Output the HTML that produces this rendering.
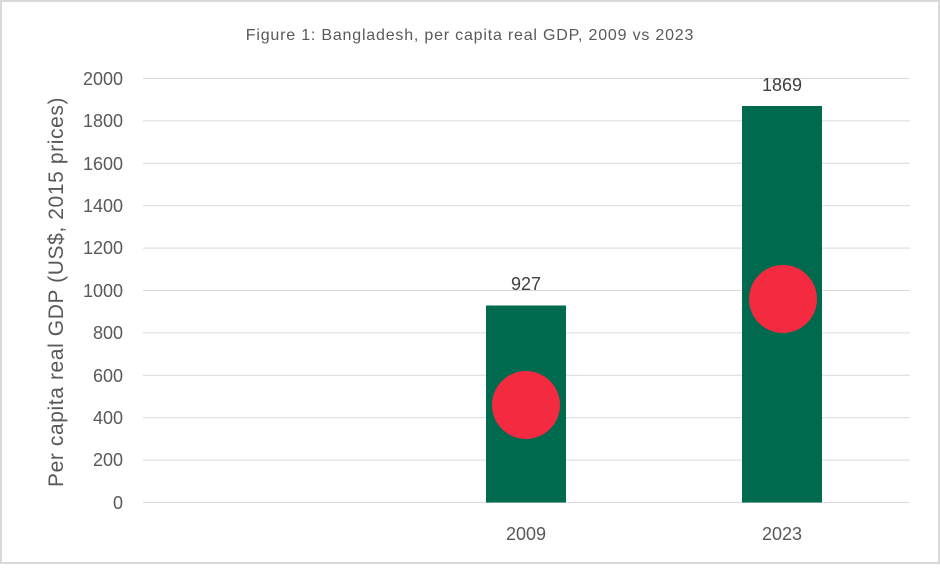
<!DOCTYPE html>
<html><head><style>body{margin:0;background:#fff}</style></head><body>
<svg width="940" height="564" xmlns="http://www.w3.org/2000/svg" font-family="Liberation Sans, sans-serif">
<rect x="1" y="1" width="938" height="562" fill="#fff" stroke="#d9d9d9" stroke-width="2"/>
<text x="470" y="40" text-anchor="middle" font-size="16" letter-spacing="0.8" fill="#595959">Figure 1: Bangladesh, per capita real GDP, 2009 vs 2023</text>
<g stroke="#d9d9d9" stroke-width="1">
<line x1="143" x2="910" y1="78.5" y2="78.5"/><line x1="143" x2="910" y1="120.9" y2="120.9"/>
<line x1="143" x2="910" y1="163.3" y2="163.3"/><line x1="143" x2="910" y1="205.7" y2="205.7"/>
<line x1="143" x2="910" y1="248.1" y2="248.1"/><line x1="143" x2="910" y1="290.5" y2="290.5"/>
<line x1="143" x2="910" y1="332.9" y2="332.9"/><line x1="143" x2="910" y1="375.3" y2="375.3"/>
<line x1="143" x2="910" y1="417.7" y2="417.7"/><line x1="143" x2="910" y1="460.1" y2="460.1"/>
<line x1="143" x2="910" y1="502.5" y2="502.5"/>
</g>
<g font-size="18" fill="#595959" text-anchor="end">
<text x="123" y="85">2000</text><text x="123" y="127">1800</text><text x="123" y="170">1600</text>
<text x="123" y="212">1400</text><text x="123" y="254">1200</text><text x="123" y="297">1000</text>
<text x="123" y="339">800</text><text x="123" y="382">600</text><text x="123" y="424">400</text>
<text x="123" y="466">200</text><text x="123" y="509">0</text>
</g>
<text transform="translate(63,292) rotate(-90)" text-anchor="middle" font-size="21" letter-spacing="0.6" fill="#595959">Per capita real GDP (US$, 2015 prices)</text>
<rect x="486" y="305.5" width="80" height="197" fill="#006a4e"/>
<rect x="742" y="106" width="80" height="396.5" fill="#006a4e"/>
<circle cx="526" cy="405" r="34" fill="#f42a41"/>
<circle cx="783" cy="299" r="34" fill="#f42a41"/>
<g font-size="18" fill="#404040" text-anchor="middle">
<text x="526" y="290">927</text><text x="782" y="91">1869</text>
</g>
<g font-size="18" fill="#595959" text-anchor="middle">
<text x="526" y="540">2009</text><text x="782" y="540">2023</text>
</g>
</svg>
</body></html>
